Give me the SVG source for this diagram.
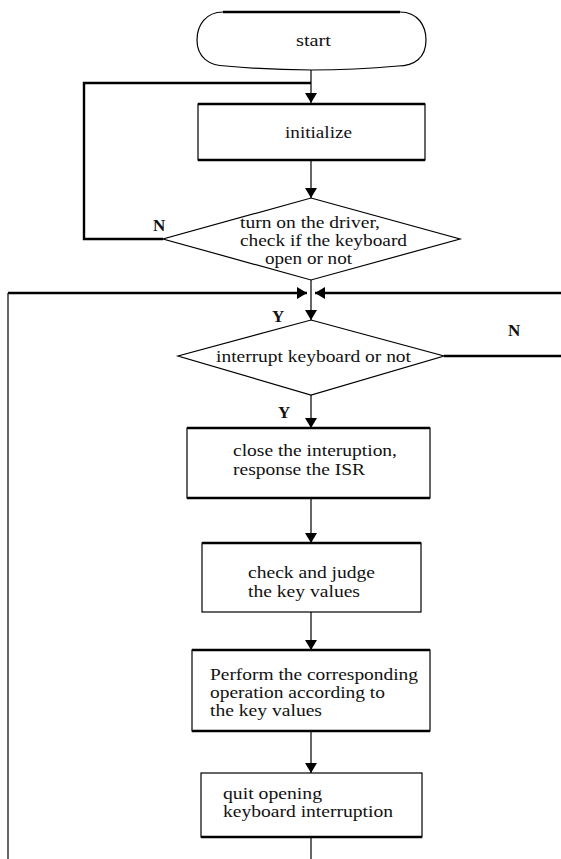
<svg xmlns="http://www.w3.org/2000/svg" width="561" height="859" viewBox="0 0 561 859">
  <style>
    .shape { fill: #ffffff; stroke: #000000; stroke-width: 1.2; }
    .edge { fill: none; stroke: #000000; stroke-width: 1.2; }
    .bold { fill: none; stroke: #000000; stroke-width: 2.4; }
    .lbl { font-family: "Liberation Serif", "Times New Roman", serif; font-size: 16px; fill: #111111; }
    .yn { font-family: "Liberation Serif", "Times New Roman", serif; font-size: 17px; font-weight: bold; fill: #111111; }
  </style>
  <defs>
    <marker id="arrow" viewBox="0 0 10 14" refX="10" refY="7" markerWidth="10" markerHeight="14" markerUnits="userSpaceOnUse" orient="auto">
      <path d="M0,1 L10,7 L0,13 Z" fill="#000000"/>
    </marker>
  </defs>

  <!-- connectors -->
  <g id="connectors">
    <!-- start -> initialize -->
    <line class="edge" x1="311" y1="70" x2="311" y2="103" marker-end="url(#arrow)"/>
    <!-- N loop back to initialize -->
    <polyline class="bold" points="163,239 84,239 84,83 311,83"/>
    <!-- initialize -> driver check -->
    <line class="edge" x1="311" y1="160" x2="311" y2="198" marker-end="url(#arrow)"/>
    <!-- driver check (Y) -> interrupt check -->
    <line class="edge" x1="311" y1="280" x2="311" y2="320" marker-end="url(#arrow)"/>
    <!-- left return line into merge point -->
    <line class="edge" x1="8" y1="859" x2="8" y2="293"/>
    <line class="bold" x1="8" y1="293" x2="307" y2="293" marker-end="url(#arrow)"/>
    <!-- right return line into merge point -->
    <line class="bold" x1="561" y1="293" x2="315" y2="293" marker-end="url(#arrow)"/>
    <!-- interrupt check N branch -->
    <line class="bold" x1="444" y1="356" x2="561" y2="356"/>
    <!-- main sequence -->
    <line class="edge" x1="311" y1="395" x2="311" y2="428" marker-end="url(#arrow)"/>
    <line class="edge" x1="311" y1="498" x2="311" y2="543" marker-end="url(#arrow)"/>
    <line class="edge" x1="311" y1="612" x2="311" y2="650" marker-end="url(#arrow)"/>
    <line class="edge" x1="311" y1="731" x2="311" y2="773" marker-end="url(#arrow)"/>
    <line class="edge" x1="311" y1="837" x2="311" y2="859"/>
  </g>

  <!-- start terminal -->
  <g id="start">
    <path class="shape" d="M223,12 L400,12 C418,12 426,26 426,40 C426,58 414,66 398,66 Q311,74 226,66 C209,66 197,57 197,40 C197,25 206,12 223,12 Z"/>
    <line class="bold" x1="223" y1="12" x2="400" y2="12"/>
    <text class="lbl" x="296" y="46" textLength="35" lengthAdjust="spacingAndGlyphs">start</text>
  </g>

  <!-- initialize -->
  <g id="initialize">
    <rect class="shape" x="198" y="104" width="227" height="56"/>
    <line class="bold" x1="198" y1="104" x2="425" y2="104"/>
    <line class="bold" x1="198" y1="160" x2="425" y2="160"/>
    <text class="lbl" x="285" y="138" textLength="67" lengthAdjust="spacingAndGlyphs">initialize</text>
  </g>

  <!-- driver / keyboard open check -->
  <g id="driver-check">
    <polygon class="shape" points="311,198 460,239 311,280 163,239"/>
    <text class="lbl" x="240" y="228" textLength="140" lengthAdjust="spacingAndGlyphs">turn on the driver,</text>
    <text class="lbl" x="240" y="246" textLength="167" lengthAdjust="spacingAndGlyphs">check if the keyboard</text>
    <text class="lbl" x="265" y="264" textLength="87" lengthAdjust="spacingAndGlyphs">open or not</text>
    <text class="yn" x="153" y="231">N</text>
    <text class="yn" x="272" y="322">Y</text>
  </g>

  <!-- interrupt check -->
  <g id="interrupt-check">
    <polygon class="shape" points="311,320 444,356 311,395 178,356"/>
    <text class="lbl" x="216" y="362" textLength="195" lengthAdjust="spacingAndGlyphs">interrupt keyboard or not</text>
    <text class="yn" x="508" y="336">N</text>
    <text class="yn" x="278" y="418">Y</text>
  </g>

  <!-- close interruption -->
  <g id="close-interruption">
    <rect class="shape" x="187" y="428" width="243" height="70"/>
    <line class="bold" x1="187" y1="428" x2="430" y2="428"/>
    <line class="bold" x1="187" y1="498" x2="430" y2="498"/>
    <text class="lbl" x="233" y="456" textLength="164" lengthAdjust="spacingAndGlyphs">close the interuption,</text>
    <text class="lbl" x="233" y="475" textLength="132" lengthAdjust="spacingAndGlyphs">response the ISR</text>
  </g>

  <!-- check key values -->
  <g id="check-keys">
    <rect class="shape" x="202" y="543" width="219" height="69"/>
    <line class="bold" x1="202" y1="543" x2="421" y2="543"/>
    <text class="lbl" x="248" y="578" textLength="127" lengthAdjust="spacingAndGlyphs">check and judge</text>
    <text class="lbl" x="248" y="597" textLength="112" lengthAdjust="spacingAndGlyphs">the key values</text>
  </g>

  <!-- perform operation -->
  <g id="perform-operation">
    <rect class="shape" x="192" y="650" width="238" height="81"/>
    <line class="bold" x1="192" y1="650" x2="430" y2="650"/>
    <line class="bold" x1="192" y1="731" x2="430" y2="731"/>
    <text class="lbl" x="210" y="680" textLength="208" lengthAdjust="spacingAndGlyphs">Perform the corresponding</text>
    <text class="lbl" x="210" y="698" textLength="175" lengthAdjust="spacingAndGlyphs">operation according to</text>
    <text class="lbl" x="210" y="716" textLength="112" lengthAdjust="spacingAndGlyphs">the key values</text>
  </g>

  <!-- quit interruption -->
  <g id="quit-interruption">
    <rect class="shape" x="201" y="773" width="221" height="64"/>
    <line class="bold" x1="201" y1="837" x2="422" y2="837"/>
    <text class="lbl" x="223" y="799" textLength="99" lengthAdjust="spacingAndGlyphs">quit opening</text>
    <text class="lbl" x="223" y="817" textLength="170" lengthAdjust="spacingAndGlyphs">keyboard interruption</text>
  </g>
</svg>
